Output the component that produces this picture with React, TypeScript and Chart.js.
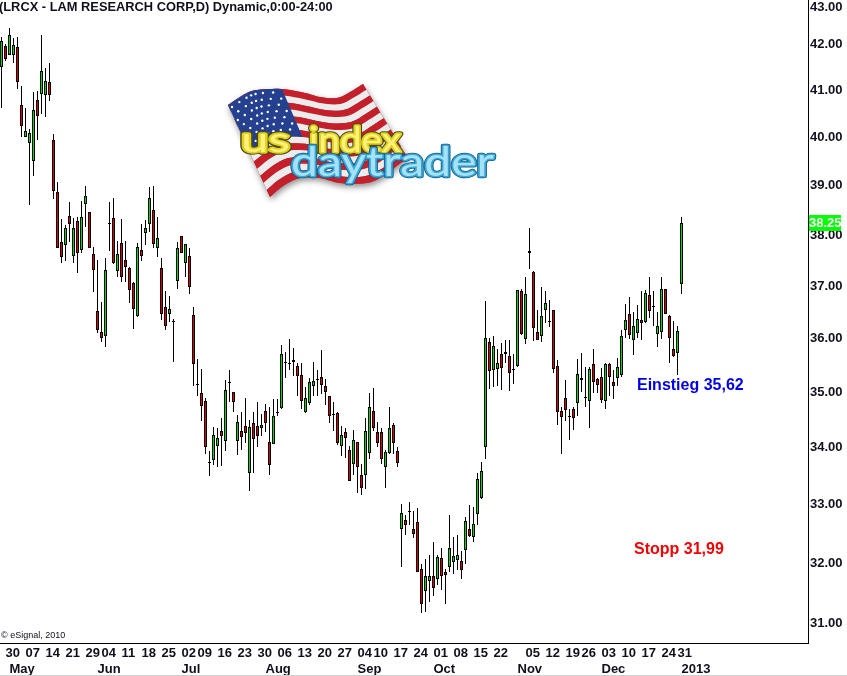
import React, { useEffect, useRef } from "react";
import { Chart, registerables } from "chart.js";

Chart.register(...registerables);

const opens = [41.50,41.96,41.76,41.76,41.93,40.68,40.00,39.88,39.51,40.79,40.91,40.89,41.17,39.94,38.87,37.87,37.81,38.39,37.59,38.29,37.71,38.63,38.47,37.63,36.52,36.12,36.05,38.25,38.35,37.30,37.85,37.51,37.35,37.06,36.43,37.71,38.05,38.23,38.51,37.75,37.35,36.60,36.47,36.33,37.10,37.98,37.45,37.59,36.45,35.15,34.99,34.84,33.75,33.78,34.03,34.30,34.12,35.19,35.00,34.12,34.30,34.39,33.54,34.44,34.39,34.34,34.66,34.10,34.06,34.64,34.71,35.56,35.54,35.60,35.49,35.32,34.64,34.81,35.12,35.24,35.28,35.12,34.93,34.61,34.62,34.03,34.28,33.96,33.71,34.10,33.52,33.52,33.91,34.66,34.27,34.27,33.66,33.91,34.41,33.94,32.57,32.74,32.89,32.57,32.70,31.91,31.53,31.71,31.79,31.73,32.09,31.86,31.94,32.02,32.06,32.04,32.23,32.58,32.45,32.84,33.12,34.01,35.93,35.41,35.43,35.71,35.75,35.67,35.43,35.49,36.90,35.99,37.65,37.28,36.12,36.05,36.54,36.32,36.54,35.49,34.66,34.90,34.57,34.70,34.81,35.23,34.91,34.84,35.52,35.24,35.28,34.84,35.52,35.19,35.26,35.32,36.16,36.47,35.97,36.10,36.35,36.31,36.83,36.62,36.08,36.12,36.94,36.43,35.80,35.73,37.04];
const highs = [42.15,42.00,42.35,42.13,42.15,41.09,40.62,40.17,40.96,40.98,42.20,41.48,41.59,40.06,39.08,38.33,38.21,38.67,38.35,38.37,38.69,38.99,38.47,37.77,37.51,36.69,37.55,38.67,38.75,37.89,38.33,37.89,37.37,37.08,37.85,38.23,38.31,38.97,38.99,38.37,37.55,36.90,36.81,36.37,37.87,37.98,37.83,37.75,36.60,35.62,35.43,34.90,33.94,34.37,34.35,34.52,35.23,35.41,35.00,34.59,34.63,34.90,34.50,34.63,34.82,34.61,34.79,34.73,34.88,34.88,35.88,35.75,35.99,35.82,35.54,35.54,35.10,35.26,35.56,35.41,35.78,35.24,34.93,34.82,34.64,34.39,34.34,34.03,34.32,34.10,33.71,34.53,34.99,35.08,34.46,34.35,33.96,34.73,34.43,34.01,33.01,32.82,33.04,32.89,32.94,31.99,32.07,32.14,32.36,32.14,32.26,31.91,32.82,32.45,32.48,32.21,32.79,32.99,32.96,33.54,33.75,36.71,36.00,36.04,35.80,35.91,35.97,35.97,35.71,36.92,36.94,37.18,38.15,37.30,36.54,36.98,36.90,36.73,36.54,35.60,34.73,35.23,34.70,34.73,35.62,35.73,35.47,35.47,35.80,35.26,35.45,35.54,35.54,35.41,35.64,36.16,36.66,36.79,36.50,36.64,36.90,36.92,37.18,36.90,36.50,37.18,36.94,36.45,36.32,36.24,38.37];
const lows = [40.62,41.63,41.76,41.59,41.02,40.00,40.00,38.61,39.20,39.94,40.49,40.43,40.77,38.73,37.75,37.45,37.49,37.87,37.45,37.26,37.65,38.16,37.75,36.89,36.10,35.93,35.84,37.69,37.43,37.18,37.08,37.08,36.68,36.18,36.41,37.49,37.81,38.06,37.75,37.57,36.35,36.16,36.31,35.56,36.94,37.65,37.18,36.85,35.12,34.93,34.48,33.89,33.50,33.69,33.66,33.68,33.94,34.82,34.64,33.87,33.96,34.08,33.24,33.54,34.01,34.21,34.28,33.52,34.06,34.57,34.70,35.26,35.41,35.30,34.93,34.70,34.62,34.77,34.93,34.93,34.97,34.77,34.43,34.30,34.05,33.85,33.82,33.40,33.52,33.19,33.17,33.27,33.80,34.30,34.01,33.71,33.29,33.89,33.89,33.66,31.94,32.48,32.65,32.43,31.86,31.18,31.20,31.36,31.46,31.63,31.56,31.33,31.86,31.82,31.89,31.74,31.99,32.45,32.36,32.65,33.10,33.80,35.05,35.10,35.12,35.04,35.54,35.02,35.15,35.47,36.06,35.90,37.33,35.95,35.97,35.93,36.29,36.22,35.36,34.41,33.89,34.48,34.14,34.32,34.57,35.00,34.73,34.35,34.99,34.99,34.81,34.70,34.93,34.88,35.12,35.28,36.01,35.99,35.69,36.01,35.97,36.29,36.39,36.23,35.84,35.99,36.47,35.54,35.65,35.32,36.85];
const closes = [42.07,41.67,42.20,41.98,41.17,40.23,40.13,40.09,40.57,40.45,41.41,41.20,40.89,38.89,37.75,37.57,38.15,38.23,38.15,37.65,38.37,38.79,37.75,37.31,36.16,36.01,37.31,38.25,37.45,37.63,37.18,37.37,36.92,36.56,37.77,37.59,38.15,38.75,37.83,37.94,36.47,36.23,36.56,36.33,37.75,37.65,37.83,36.98,35.52,35.15,34.75,34.01,33.75,34.23,34.17,34.21,35.04,35.19,34.82,34.46,34.19,34.25,34.37,34.15,34.21,34.41,34.44,33.69,34.57,34.64,35.71,35.56,35.54,35.56,35.30,34.84,34.90,35.19,35.21,35.24,35.13,35.00,34.57,34.61,34.08,34.23,34.17,33.41,34.14,33.66,33.29,34.30,34.73,34.34,34.08,33.80,33.92,34.35,34.08,33.73,32.86,32.65,32.89,32.50,31.86,31.33,31.79,31.79,31.59,32.10,31.78,31.81,32.26,32.12,32.14,31.89,32.72,32.46,32.67,33.45,33.59,36.00,35.38,35.86,35.54,35.45,35.71,35.36,35.43,36.92,36.08,36.85,37.69,36.20,35.97,36.43,36.68,36.32,35.43,34.64,34.55,34.68,34.57,34.52,35.34,35.26,34.91,35.43,35.19,35.13,34.86,35.52,35.28,35.12,35.47,36.05,36.35,36.06,36.23,36.37,36.29,36.87,36.52,36.62,36.23,36.94,36.47,36.01,35.67,36.14,38.25];

const priceTicks = [31, 32, 33, 34, 35, 36, 37, 38, 39, 40, 41, 42, 43];
const weekBars = [1,6,11,16,21,25,30,35,40,45,49,54,59,64,69,74,79,84,89,93,98,103,108,113,118,123,131,136,141,145,150,155,160,165,169];
const weekLabels = ["30","07","14","21","29","04","11","18","25","02","09","16","23","30","06","13","20","27","04","10","17","24","01","08","15","22","05","12","19","26","03","10","17","24","31"];
const monthBars = [2,24,45,66,89,108,129,150,170];
const monthLabels = ["May","Jun","Jul","Aug","Sep","Oct","Nov","Dec","2013"];
const lastClose = 38.25;

const UP = "#00dc00";
const DOWN = "#dc0000";
const INK = "#10101c";
const AXIS_FONT = { family: "'Liberation Sans', Arial, sans-serif", size: 13, weight: "bold" as const, lineHeight: 16 / 13 };

type Pt = [number, number];
const topEdge: Pt[] = [[228,105],[245,94],[257,90],[282,89],[305,93],[320,97],[337,98],[350,92],[363,84]];
const botEdge: Pt[] = [[270,197],[283,186],[300,178],[320,178],[340,183],[367,183],[385,175],[398,165],[408,158]];

function along(p: Pt[], u: number): Pt {
  const f = Math.min(Math.max(u, 0), 1) * (p.length - 1);
  const i = Math.min(Math.floor(f), p.length - 2);
  const t = f - i;
  const a = p[Math.max(i - 1, 0)], b = p[i], c = p[i + 1], d = p[Math.min(i + 2, p.length - 1)];
  const cr = (k: number) =>
    0.5 * (2 * b[k] + (c[k] - a[k]) * t + (2 * a[k] - 5 * b[k] + 4 * c[k] - d[k]) * t * t + (3 * b[k] - a[k] - 3 * c[k] + d[k]) * t * t * t);
  return [cr(0), cr(1)];
}
function flagPt(u: number, t: number): Pt {
  const a = along(topEdge, u), b = along(botEdge, u);
  return [a[0] + (b[0] - a[0]) * t, a[1] + (b[1] - a[1]) * t];
}
function flagPatch(ctx: CanvasRenderingContext2D, u0: number, u1: number, t0: number, t1: number) {
  ctx.beginPath();
  const n = 40;
  for (let i = 0; i <= n; i++) {
    const p = flagPt(u0 + ((u1 - u0) * i) / n, t0);
    if (i === 0) ctx.moveTo(p[0], p[1]); else ctx.lineTo(p[0], p[1]);
  }
  for (let i = n; i >= 0; i--) {
    const p = flagPt(u0 + ((u1 - u0) * i) / n, t1);
    ctx.lineTo(p[0], p[1]);
  }
  ctx.closePath();
}
function glossyText(ctx: CanvasRenderingContext2D, text: string, left: number, right: number, base: number, size: number, cols: string[], outer: number, mid: number) {
  ctx.save();
  ctx.font = `${size}px Lato, 'Open Sans', sans-serif`;
  ctx.textAlign = "left";
  ctx.textBaseline = "alphabetic";
  ctx.lineJoin = "round";
  ctx.lineCap = "round";
  const w = ctx.measureText(text).width;
  ctx.translate(left, base);
  ctx.scale((right - left) / w, 1);
  ctx.strokeStyle = cols[0];
  ctx.lineWidth = outer;
  ctx.strokeText(text, 0, 0);
  ctx.strokeStyle = cols[1];
  ctx.lineWidth = mid;
  ctx.strokeText(text, 0, 0);
  ctx.fillStyle = cols[2];
  ctx.fillText(text, 0, -0.5);
  ctx.restore();
}
function drawLogo(ctx: CanvasRenderingContext2D) {
  ctx.save();
  ctx.save();
  ctx.shadowColor = "rgba(0,0,0,0.45)";
  ctx.shadowBlur = 6;
  ctx.shadowOffsetX = 1;
  ctx.shadowOffsetY = 3;
  flagPatch(ctx, 0, 1, 0, 1);
  ctx.fillStyle = "#b81f2a";
  ctx.fill();
  ctx.restore();
  for (let k = 0; k < 13; k++) {
    flagPatch(ctx, 0, 1, k / 13, (k + 1) / 13);
    ctx.fillStyle = k % 2 === 0 ? "#c4202c" : "#ececec";
    ctx.fill();
  }
  flagPatch(ctx, 0, 0.375, 0, 7 / 13);
  ctx.fillStyle = "#24408f";
  ctx.fill();
  ctx.fillStyle = "#ffffff";
  for (let r = 0; r < 7; r++) {
    for (let c = 0; c < 7; c++) {
      const p = flagPt(0.025 + c * 0.05 + (r % 2) * 0.025, 0.04 + r * 0.07);
      ctx.beginPath();
      ctx.arc(p[0], p[1], 1.2, 0, Math.PI * 2);
      ctx.fill();
    }
  }
  glossyText(ctx, "us", 241, 290, 152, 34, ["#4a4a12", "#e2d020", "#fff27a"], 5.5, 3.5);
  glossyText(ctx, "index", 309, 401, 152, 34, ["#4a4a12", "#e2d020", "#fff27a"], 5.5, 3.5);
  glossyText(ctx, "daytrader", 291, 494, 176, 40, ["#0f5c86", "#3ba6d6", "#a6e2f6"], 4.5, 3);
  ctx.restore();
}

const snapBars = {
  id: "snapBars",
  afterDatasetsUpdate(chart: any) {
    chart.data.datasets.forEach((_: any, di: number) => {
      chart.getDatasetMeta(di).data.forEach((el: any) => {
        el.y = Math.round(el.y);
        el.base = Math.round(el.base);
        if (el.y === el.base) el.base = el.y + 1;
      });
    });
  },
};

const logoPlugin = {
  id: "logo",
  beforeDatasetsDraw(chart: any) {
    drawLogo(chart.ctx);
  },
};

const notes = {
  id: "notes",
  afterDraw(chart: any) {
    const ctx: CanvasRenderingContext2D = chart.ctx;
    const y = chart.scales.y.getPixelForValue(lastClose);
    ctx.save();
    ctx.textBaseline = "middle";
    ctx.textAlign = "left";
    ctx.font = "bold 12.85px 'Liberation Sans', Arial, sans-serif";
    ctx.fillStyle = INK;
    ctx.fillText("(LRCX - LAM RESEARCH CORP,D) Dynamic,0:00-24:00", -1, 7);
    ctx.fillStyle = "#00ff00";
    ctx.fillRect(809, Math.round(y) - 8, 32, 16);
    ctx.font = "bold 13px 'Liberation Sans', Arial, sans-serif";
    ctx.fillStyle = "#ffffff";
    ctx.fillText(lastClose.toFixed(2), 809, y + 0.5);
    ctx.font = "9px 'Liberation Sans', Arial, sans-serif";
    ctx.fillStyle = INK;
    ctx.fillText("© eSignal, 2010", 1, 636);
    ctx.font = "bold 16px 'Liberation Sans', Arial, sans-serif";
    ctx.fillStyle = "#0000e6";
    ctx.fillText("Einstieg 35,62", 637, 386);
    ctx.fillStyle = "#f00000";
    ctx.fillText("Stopp 31,99", 634, 550);
    ctx.fillStyle = "#d0d0d0";
    ctx.fillRect(0, 675, 847, 1);
    ctx.restore();
  },
};

const X_MIN = -0.375;
const X_MAX = 201.625;

export default function App() {
  const ref = useRef<HTMLCanvasElement | null>(null);
  useEffect(() => {
    document.body.style.margin = "0";
    document.body.style.background = "#fff";
    if (!ref.current) return;
    const bars = opens.map((_, i) => i);
    const chart = new Chart(ref.current, {
      type: "bar",
      data: {
        datasets: [
          {
            label: "Body",
            data: bars.map((i) => ({ x: i, y: [opens[i], closes[i]] })),
            backgroundColor: bars.map((i) => (closes[i] >= opens[i] ? UP : DOWN)),
            borderColor: "#000",
            borderWidth: 1,
            borderSkipped: false,
            barPercentage: 1,
            categoryPercentage: 1,
            maxBarThickness: 3,
            grouped: false,
            inflateAmount: 0,
            order: 1,
          },
          {
            label: "Range",
            data: bars.map((i) => ({ x: i, y: [lows[i], highs[i]] })),
            backgroundColor: "#000",
            borderWidth: 0,
            barPercentage: 1,
            categoryPercentage: 1,
            maxBarThickness: 1,
            grouped: false,
            inflateAmount: 0,
            order: 2,
          },
        ] as any,
      },
      options: {
        animation: false,
        responsive: false,
        events: [],
        layout: { padding: 0 },
        plugins: { legend: { display: false }, tooltip: { enabled: false }, title: { display: false } },
        scales: {
          x: {
            type: "linear",
            position: "bottom",
            offset: false,
            min: X_MIN,
            max: X_MAX,
            weight: 1,
            grid: { display: false, drawTicks: false, offset: false },
            border: { display: true, color: "#000", width: 1 },
            ticks: {
              autoSkip: false,
              maxRotation: 0,
              align: "start",
              padding: 2,
              color: INK,
              font: AXIS_FONT,
              callback: (v: any) => weekLabels[weekBars.indexOf(v)],
            },
            afterBuildTicks: (s: any) => {
              s.ticks = weekBars.map((value) => ({ value }));
            },
            afterFit: (s: any) => {
              s.height = 17;
              s.paddingLeft = 0;
              s.paddingRight = 0;
            },
          },
          xm: {
            type: "linear",
            position: "bottom",
            axis: "x",
            offset: false,
            min: X_MIN,
            max: X_MAX,
            weight: 2,
            grid: { display: false, drawTicks: false, offset: false },
            border: { display: false },
            ticks: {
              autoSkip: false,
              maxRotation: 0,
              align: "start",
              padding: 1,
              color: INK,
              font: AXIS_FONT,
              callback: (v: any) => monthLabels[monthBars.indexOf(v)],
            },
            afterBuildTicks: (s: any) => {
              s.ticks = monthBars.map((value) => ({ value }));
            },
            afterFit: (s: any) => {
              s.height = 16;
              s.paddingLeft = 0;
              s.paddingRight = 0;
            },
          },
          y: {
            type: "logarithmic",
            position: "right",
            min: 30.69,
            max: 42.98,
            grid: { display: false, drawTicks: false },
            border: { display: true, color: "#000", width: 1 },
            ticks: {
              autoSkip: false,
              padding: 2,
              color: INK,
              font: AXIS_FONT,
              callback: (v: any) => (v === 43 ? ["", v.toFixed(2)] : Number(v).toFixed(2)),
            },
            afterBuildTicks: (s: any) => {
              s.ticks = priceTicks.map((value) => ({ value }));
            },
            afterFit: (s: any) => {
              s.width = 39;
              s.paddingTop = 0;
              s.paddingBottom = 0;
            },
          },
        },
      } as any,
      plugins: [snapBars, logoPlugin, notes],
    });
    return () => chart.destroy();
  }, []);
  return <canvas ref={ref} width={847} height={676} style={{ display: "block", background: "#fff" }} />;
}
